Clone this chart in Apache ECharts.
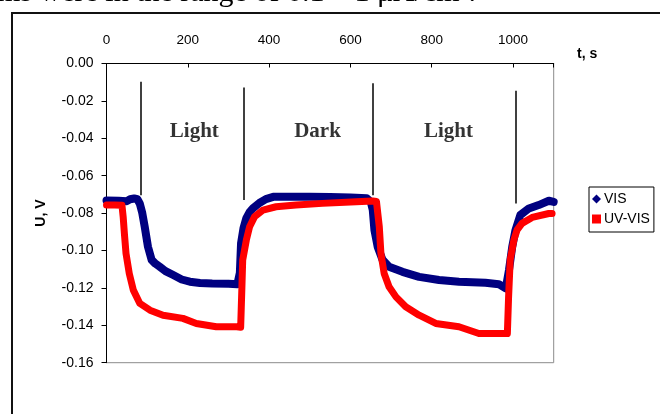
<!DOCTYPE html>
<html>
<head>
<meta charset="utf-8">
<script src="https://cdn.jsdelivr.net/npm/echarts@6/dist/echarts.min.js"></script>
<style>
html,body{margin:0;padding:0;background:#fff;}
#c{width:660px;height:414px;}
</style>
</head>
<body>
<div id="c"></div>
<script>
// ---- data ----
var xTicks = [0, 200, 400, 600, 800, 1000];
var yTicks = [0, -0.02, -0.04, -0.06, -0.08, -0.10, -0.12, -0.14, -0.16];

var visT = [0, 30, 50, 58, 68, 76, 82, 88, 94, 102, 111, 120, 131, 145, 163, 185, 205, 230, 260, 300, 322,
  328, 331, 337, 344, 352, 360, 376, 392, 410, 450, 500, 550, 600, 640, 650,
  655, 659, 667, 679, 695, 728, 769, 818, 867, 932, 965, 982,
  990, 998, 1006, 1018, 1039, 1063, 1088, 1100];
var visU = [-0.0732, -0.0734, -0.0736, -0.0726, -0.0722, -0.0726, -0.0750, -0.0800, -0.0873, -0.0980, -0.1050, -0.1070, -0.1087, -0.1110, -0.1130, -0.1155, -0.1167, -0.1174, -0.1177, -0.1178, -0.1180,
  -0.1120, -0.0960, -0.0880, -0.0827, -0.0795, -0.0775, -0.0746, -0.0725, -0.0713, -0.0712, -0.0713, -0.0714, -0.0716, -0.0720, -0.0740,
  -0.0784, -0.0890, -0.0980, -0.1050, -0.1087, -0.1114, -0.1141, -0.1158, -0.1167, -0.1173, -0.1180, -0.1203,
  -0.1105, -0.0980, -0.0891, -0.0810, -0.0775, -0.0757, -0.0734, -0.0740];

var uvT = [0, 20, 38, 41, 44, 48, 56, 66, 82, 107, 139, 188, 221, 270, 320, 330,
  333, 335, 344, 352, 364, 385, 417, 466, 531, 614, 655, 664,
  667, 671, 675, 683, 695, 712, 736, 769, 810, 867, 916, 986,
  989, 993, 1002, 1010, 1022, 1047, 1088, 1096];
var uvU = [-0.0757, -0.0757, -0.0758, -0.0820, -0.0909, -0.1016, -0.1123, -0.1212, -0.1283, -0.1319, -0.1346, -0.1363, -0.1390, -0.1408, -0.1408, -0.1410,
  -0.1200, -0.1051, -0.0944, -0.0873, -0.0820, -0.0784, -0.0766, -0.0757, -0.0748, -0.0739, -0.0735, -0.0738,
  -0.0748, -0.0873, -0.1016, -0.1123, -0.1194, -0.1248, -0.1301, -0.1346, -0.1390, -0.1408, -0.1444, -0.1444,
  -0.1250, -0.1050, -0.0944, -0.0890, -0.0855, -0.0823, -0.0802, -0.0802];

// annotation separator lines (time, top value, bottom value)
var markT = [84, 338, 654.5, 1006];
var markTop = [-0.0097, -0.0129, -0.0106, -0.0146];
var markBottom = [-0.0704, -0.0730, -0.0704, -0.0748];

// period labels
var periodNames = ['Light', 'Dark', 'Light'];
var periodT = [216, 519, 841];
var periodU = [-0.0362, -0.0362, -0.0362];

var seriesNames = ['VIS', 'UV-VIS'];

function pairs(a, b) { return a.map(function (v, i) { return [v, b[i]]; }); }

var chart = echarts.init(document.getElementById('c'), null, {renderer: 'canvas'});
var sans = 'Liberation Sans, Arial, sans-serif';
var serif = 'Liberation Serif, Times New Roman, serif';

chart.setOption({
  backgroundColor: '#ffffff',
  animation: false,
  grid: {left: 106.5, top: 63.5, right: 106.3, bottom: 51.3, show: true, borderColor: '#8c8c8c', borderWidth: 1},
  legend: {
    orient: 'vertical', left: 589, top: 187,
    borderColor: '#000', borderWidth: 1, padding: [5, 4, 6, 3],
    itemGap: 6, itemWidth: 9, itemHeight: 9,
    textStyle: {fontFamily: sans, fontSize: 14, color: '#000', padding: [0, 0, 0, -2]},
    data: [{name: seriesNames[0], icon: 'diamond'}, {name: seriesNames[1], icon: 'rect'}]
  },
  xAxis: {
    type: 'value', position: 'top', min: 0, max: 1100, interval: 200,
    axisLine: {lineStyle: {color: '#000', width: 1}},
    axisTick: {inside: true, length: 4, lineStyle: {color: '#000'}},
    splitLine: {show: false},
    axisLabel: {
      margin: 16, fontFamily: sans, fontSize: 13.5, color: '#000',
      formatter: function (v) { return xTicks.indexOf(v) >= 0 ? String(v) : ''; }
    }
  },
  yAxis: {
    type: 'value', min: -0.16, max: 0, interval: 0.02,
    name: 'U, V', nameLocation: 'middle', nameGap: 58, nameRotate: 90,
    nameTextStyle: {fontFamily: sans, fontSize: 14, fontWeight: 'bold', color: '#000'},
    axisLine: {show: true, lineStyle: {color: '#000', width: 1}},
    axisTick: {show: true, inside: false, length: 5, lineStyle: {color: '#000'}},
    splitLine: {show: false},
    axisLabel: {
      margin: 13, fontFamily: sans, fontSize: 14, color: '#000',
      formatter: function (v) { return (Math.abs(v) < 1e-9 ? 0 : v).toFixed(2); }
    }
  },
  series: [
    {
      name: seriesNames[0], type: 'line', data: pairs(visT, visU),
      showSymbol: false, symbol: 'diamond', color: '#000080',
      lineStyle: {width: 8, color: '#000080', join: 'round', cap: 'round'},
      z: 2,
      markLine: {
        silent: true, symbol: ['none', 'none'], animation: false,
        label: {show: false},
        lineStyle: {color: '#000', width: 1.5, type: 'solid'},
        emphasis: {disabled: true},
        data: markT.map(function (t, i) { return [{coord: [t, markTop[i]]}, {coord: [t, markBottom[i]]}]; })
      }
    },
    {
      name: seriesNames[1], type: 'line', data: pairs(uvT, uvU),
      showSymbol: false, symbol: 'rect', color: '#ff0000',
      lineStyle: {width: 7, color: '#ff0000', join: 'round', cap: 'round'},
      z: 3
    },
    {
      name: 'periods', type: 'scatter', symbolSize: 0, silent: true,
      data: periodT.map(function (t, i) { return {value: [t, periodU[i]], name: periodNames[i]}; }),
      label: {
        show: true, position: 'inside', formatter: '{b}',
        fontFamily: serif, fontSize: 21, fontWeight: 'bold', color: '#000'
      },
      z: 4
    }
  ],
  graphic: [
    {type: 'rect', shape: {x: 12, y: 13, width: 700, height: 500}, style: {fill: 'none', stroke: '#111', lineWidth: 2}, silent: true, z: 0},
    {type: 'text', left: 577, top: 47, style: {text: 't, s', font: 'bold 14px ' + sans, fill: '#000'}},
    {type: 'text', x: -3, y: 8, style: {text: 'ms were in the range of 0.1 – 1 μA/cm².', font: '30px ' + serif, fill: '#000', textVerticalAlign: 'bottom'}}
  ]
});
</script>
</body>
</html>
